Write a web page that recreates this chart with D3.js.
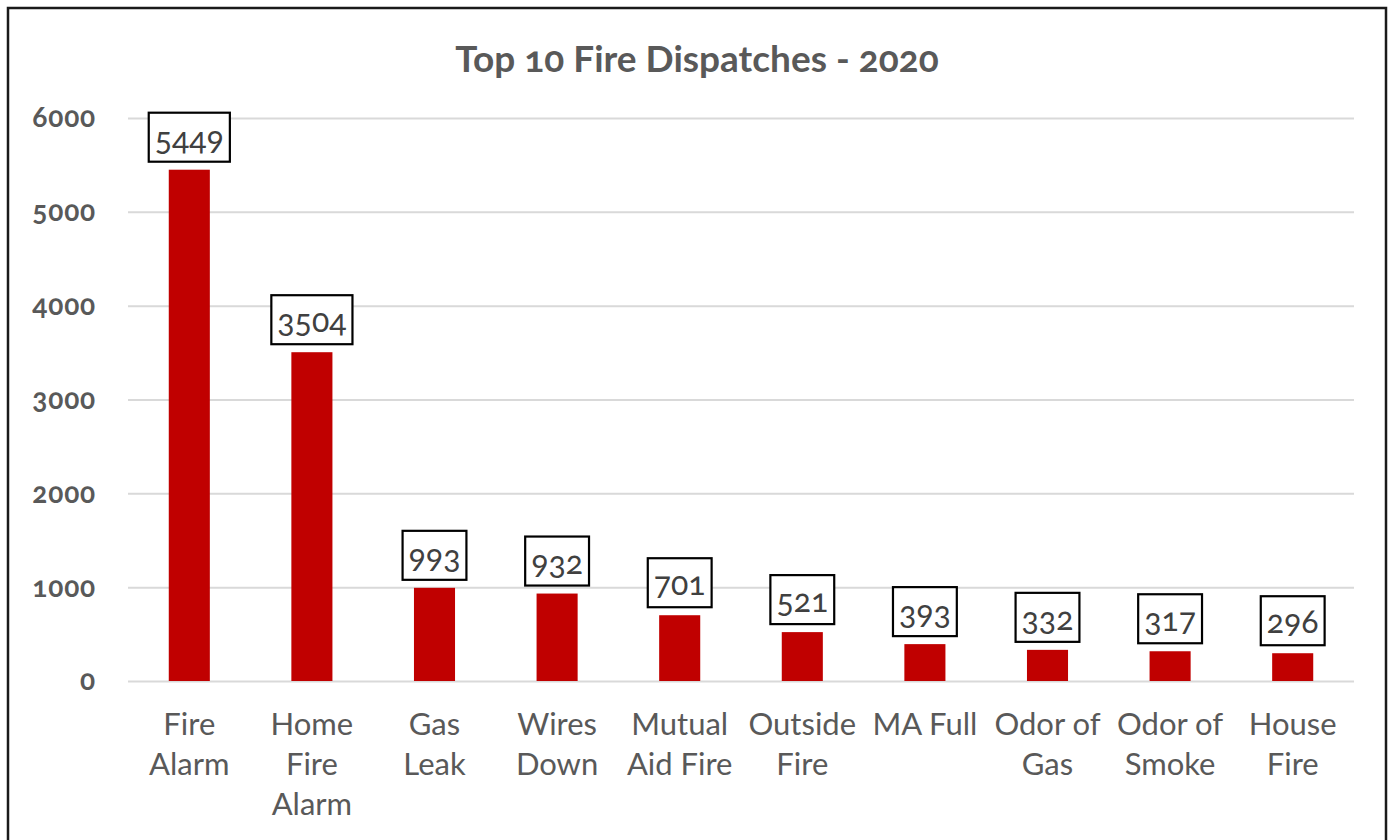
<!DOCTYPE html>
<html>
<head>
<meta charset="utf-8">
<script src="https://cdn.jsdelivr.net/npm/d3@7"></script>
<style>
  html, body { margin: 0; padding: 0; background: #fff; }
  svg { display: block; font-family: Lato, "Open Sans", sans-serif; font-variant-numeric: oldstyle-nums; }
</style>
</head>
<body>
<svg id="chart" width="1390" height="840"></svg>
<script>
const title = "Top 10 Fire Dispatches - 2020";
const categories = ["Fire Alarm", "Home Fire Alarm", "Gas Leak", "Wires Down", "Mutual Aid Fire", "Outside Fire", "MA Full", "Odor of Gas", "Odor of Smoke", "House Fire"];
const categoryLines = [["Fire", "Alarm"], ["Home", "Fire", "Alarm"], ["Gas", "Leak"], ["Wires", "Down"], ["Mutual", "Aid Fire"], ["Outside", "Fire"], ["MA Full"], ["Odor of", "Gas"], ["Odor of", "Smoke"], ["House", "Fire"]];
const values = [5449, 3504, 993, 932, 701, 521, 393, 332, 317, 296];
const yTicks = [0, 1000, 2000, 3000, 4000, 5000, 6000];

const svg = d3.select("#chart");
const plot = { left: 128, right: 1354, top: 118, bottom: 681 };

// outer frame
svg.append("rect").attr("x", 8).attr("y", 8).attr("width", 1378).attr("height", 850)
  .attr("fill", "#fff").attr("stroke", "#1a1a1a").attr("stroke-width", 2.5);

svg.append("text").attr("x", 697).attr("y", 72).attr("text-anchor", "middle")
  .attr("font-size", 37).attr("font-weight", "bold").attr("fill", "#595959").text(title);

const x = d3.scaleBand().domain(categories).range([plot.left, plot.right]).paddingInner(0.665).paddingOuter(0.3325);
const y = d3.scaleLinear().domain([0, 6000]).range([plot.bottom, plot.top]);

// gridlines + y labels
const yAxis = d3.axisLeft(y).tickValues(yTicks).tickSize(-(plot.right - plot.left)).tickPadding(32).tickFormat(d3.format("d"));
const gy = svg.append("g").attr("transform", `translate(${plot.left},0)`).call(yAxis);
gy.select(".domain").remove();
gy.selectAll(".tick line").attr("stroke", "#d9d9d9").attr("stroke-width", 2);
gy.selectAll(".tick text").attr("font-size", 28).attr("font-weight", "bold").attr("fill", "#595959")
  .attr("font-family", "Lato, sans-serif").attr("letter-spacing", 0.8).attr("dy", "0.32em");

// bars
svg.append("g").selectAll("rect").data(values).join("rect")
  .attr("x", (d, i) => x(categories[i]))
  .attr("width", x.bandwidth())
  .attr("y", d => y(d))
  .attr("height", d => y(0) - y(d))
  .attr("fill", "#C00000");

// data labels with boxes
const lbl = svg.append("g").selectAll("g").data(values).join("g")
  .attr("transform", (d, i) => `translate(${x(categories[i]) + x.bandwidth() / 2},${y(d) - 8})`);
lbl.each(function(d) {
  const g = d3.select(this);
  const t = g.append("text").attr("text-anchor", "middle").attr("y", -12)
    .attr("font-size", 32).attr("fill", "#404040").text(d);
  const bb = t.node().getBBox();
  const bw = bb.width + 12, bh = 49;
  g.insert("rect", "text").attr("x", -bw / 2).attr("y", -bh).attr("width", bw).attr("height", bh)
    .attr("fill", "#fff").attr("stroke", "#000").attr("stroke-width", 2.2);
});

// category labels
const cg = svg.append("g").selectAll("text").data(categories).join("text")
  .attr("text-anchor", "middle")
  .attr("x", d => x(d) + x.bandwidth() / 2)
  .attr("y", 735)
  .attr("font-size", 31).attr("fill", "#595959");
cg.each(function(d, i) {
  const t = d3.select(this);
  categoryLines[i].forEach((ln, j) => {
    t.append("tspan").attr("x", x(d) + x.bandwidth() / 2).attr("dy", j === 0 ? 0 : 40).text(ln);
  });
});
</script>
</body>
</html>
